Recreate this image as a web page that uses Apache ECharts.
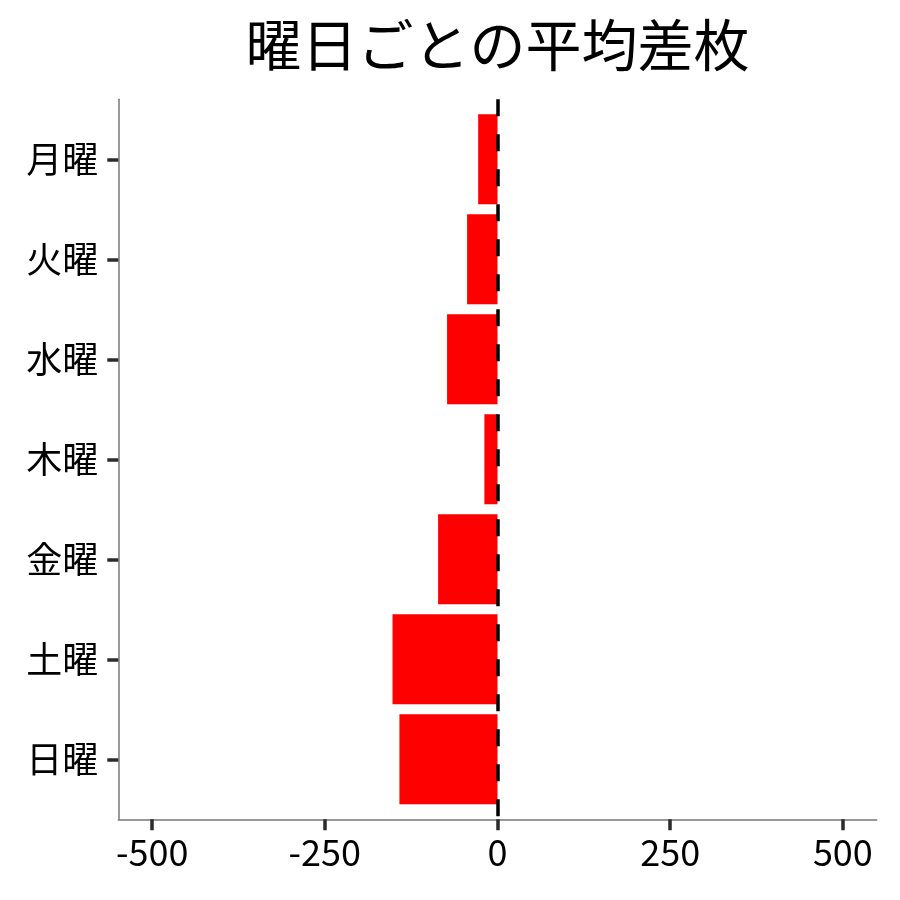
<!DOCTYPE html>
<html><head><meta charset="utf-8">
<script src="https://cdn.jsdelivr.net/npm/echarts@6/dist/echarts.min.js"></script>
<style>html,body{margin:0;padding:0;background:#fff}#c{width:900px;height:900px}</style>
</head><body><div id="c"></div>
<script>
const titleText = '曜日ごとの平均差枚';
const categories = ['月曜', '火曜', '水曜', '木曜', '金曜', '土曜', '日曜'];
const values = [-28, -44, -73, -19, -86, -152, -142];
const xTicks = [-500, -250, 0, 250, 500];

const FONT = '"Noto Sans CJK JP", "Noto Sans", sans-serif';
const X_MIN = -549, X_MAX = 549;
const catPos = categories.map((c, i) => i + 1);
const chart = echarts.init(document.getElementById('c'), null, {renderer: 'canvas'});
chart.setOption({
  backgroundColor: '#fff',
  animation: false,
  title: {
    text: titleText,
    left: 492.5, textAlign: 'center', top: 12,
    textStyle: {fontFamily: FONT, fontSize: 56, fontWeight: 'normal', color: '#000'}
  },
  grid: [
    {left: 118.3, right: 23.3, top: 109.3, bottom: 90.7, containLabel: false},
    {left: 118.3, right: 23.3, top: 99.3, bottom: 80.7, containLabel: false}
  ],
  xAxis: [
    {gridIndex: 0, type: 'value', min: X_MIN, max: X_MAX, show: false},
    {
      gridIndex: 1, type: 'value', min: X_MIN, max: X_MAX,
      axisLine: {show: true, onZero: false, lineStyle: {color: '#777', width: 1.5}},
      axisTick: {show: true, customValues: xTicks, length: 11, lineStyle: {color: '#2b2b2b', width: 3.5}},
      axisLabel: {customValues: xTicks, fontFamily: FONT, fontSize: 36, color: '#000', margin: 15},
      splitLine: {show: false}
    }
  ],
  yAxis: [
    {gridIndex: 0, type: 'category', data: categories, inverse: true, show: false},
    {
      gridIndex: 1, type: 'value', min: 0.4, max: categories.length + 0.6, inverse: true,
      axisLine: {show: true, onZero: false, lineStyle: {color: '#777', width: 1.5}},
      axisTick: {show: true, customValues: catPos, length: 11, lineStyle: {color: '#2b2b2b', width: 3.5}},
      axisLabel: {customValues: catPos, fontFamily: FONT, fontSize: 36, color: '#000', margin: 20,
        formatter: v => categories[Math.round(v) - 1] || ''},
      splitLine: {show: false}
    }
  ],
  series: [
    {
      type: 'bar', xAxisIndex: 0, yAxisIndex: 0,
      data: values,
      barWidth: '90%',
      itemStyle: {color: '#FF0000'}
    },
    {
      type: 'line', xAxisIndex: 1, yAxisIndex: 1, data: [],
      markLine: {
        silent: true, symbol: 'none', label: {show: false},
        lineStyle: {color: '#000', width: 3.5, type: [17, 18]},
        data: [{xAxis: 0}]
      }
    }
  ]
});
</script></body></html>
